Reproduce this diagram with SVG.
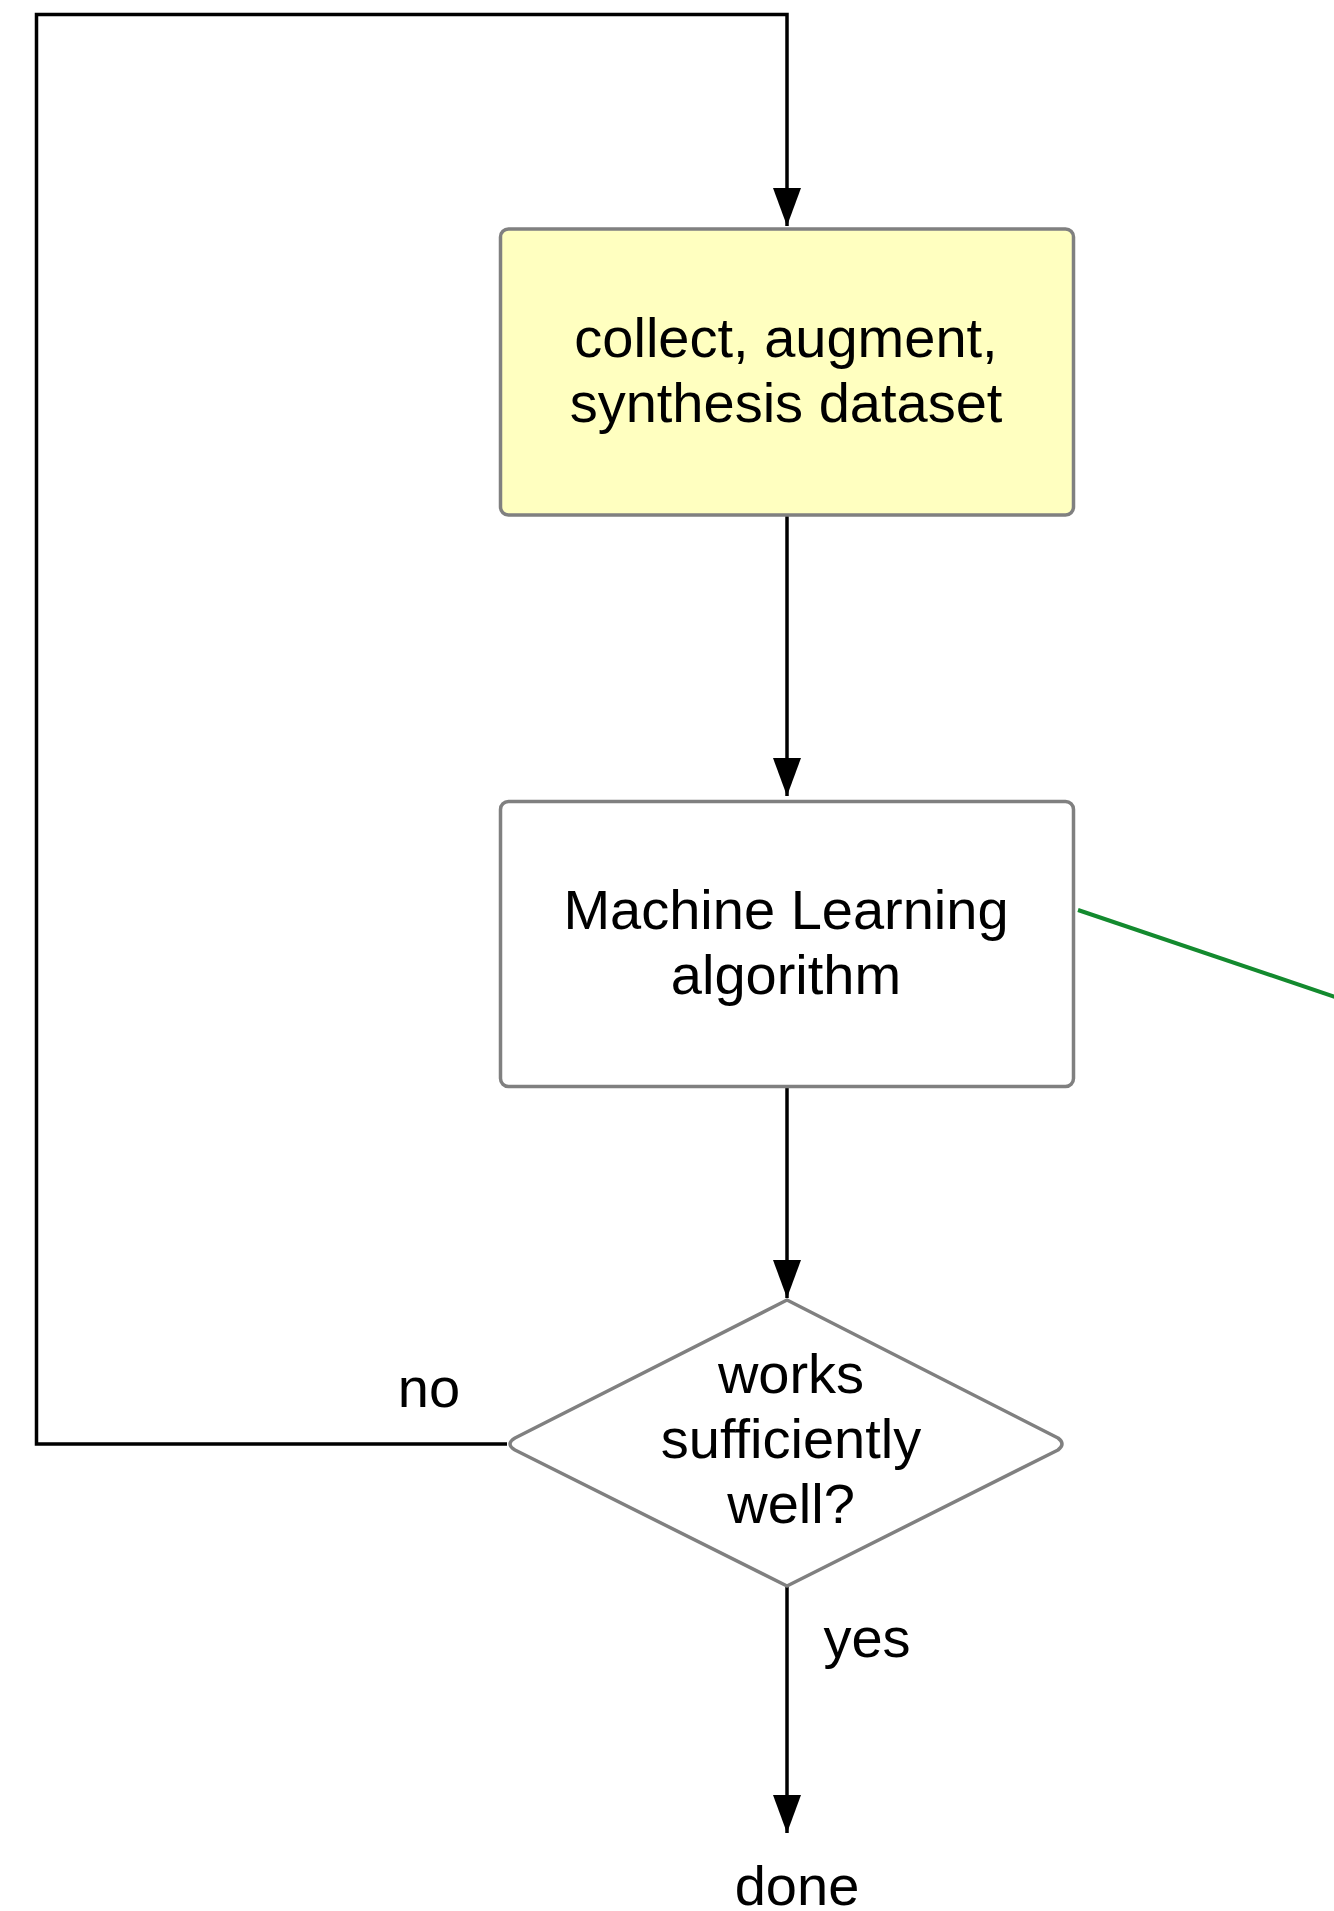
<svg xmlns="http://www.w3.org/2000/svg" width="1334" height="1911" viewBox="0 0 1334 1911">
<style>
.t{font-family:"Liberation Sans",Arial,Helvetica,sans-serif;font-size:56px;fill:#000;text-anchor:middle}
.box{stroke:#808080;stroke-width:3.5}
.c{fill:none;stroke:#000;stroke-width:3.5}
</style>
<defs>
<marker id="ah" markerUnits="userSpaceOnUse" markerWidth="38" markerHeight="28" refX="38" refY="14" orient="auto" viewBox="0 0 38 28">
<path d="M0,0 L38,14 L0,28 Z" fill="#000"/>
</marker>
</defs>
<rect width="1334" height="1911" fill="#fff"/>
<g id="connectors">
<path class="c" d="M507,1444 H36.5 V14.5 H787 V226" marker-end="url(#ah)"/>
<path class="c" d="M787,515 V796" marker-end="url(#ah)"/>
<path class="c" d="M787,1087 V1298" marker-end="url(#ah)"/>
<path class="c" d="M787,1586 V1833" marker-end="url(#ah)"/>
<line x1="1078" y1="910" x2="1340" y2="998.6" stroke="#138a2e" stroke-width="4"/>
<text class="t" x="429" y="1407">no</text>
<text class="t" x="867" y="1657">yes</text>
</g>
<g id="collect">
<rect class="box" x="500.5" y="229" width="573" height="286" rx="8" fill="#ffffc0"/>
<text class="t" x="786" y="357">collect, augment,</text>
<text class="t" x="786" y="422">synthesis dataset</text>
</g>
<g id="ml">
<rect class="box" x="500.5" y="801.5" width="573" height="285" rx="8" fill="#fff"/>
<text class="t" x="786" y="929">Machine Learning</text>
<text class="t" x="786" y="994">algorithm</text>
</g>
<g id="decision">
<path class="box" fill="#fff" stroke-linejoin="round" d="M787,1300 L1058,1438 Q1066,1444 1058,1450 L787,1586 L515,1450 Q505,1444 515,1438 Z"/>
<text class="t" x="791" y="1393">works</text>
<text class="t" x="791" y="1458">sufficiently</text>
<text class="t" x="791" y="1523">well?</text>
</g>
<g id="done">
<text class="t" x="797" y="1905">done</text>
</g>
</svg>
